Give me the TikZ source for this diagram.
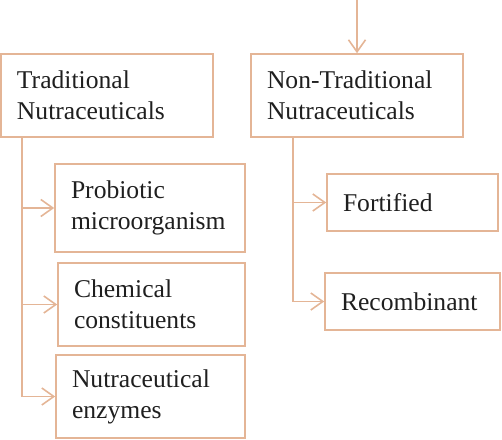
\documentclass[tikz,border=0pt]{standalone}
\usepackage{fontspec}
\setmainfont{Liberation Serif}
\usetikzlibrary{arrows.meta}
\definecolor{peach}{RGB}{228,181,150}
\begin{document}
\begin{tikzpicture}[x=1bp,y=-1bp,
  box/.style={draw=peach,line width=1.6bp,rectangle,align=left,inner ysep=0pt,
    font=\rmfamily\fontsize{25.7}{31}\selectfont,text=black!88},
  conn/.style={draw=peach,line width=1.6bp,-{Straight Barb[length=12bp,width=17bp,line width=1.6bp]}}]
\useasboundingbox (0,0) rectangle (502,440);
% top level boxes
\node[box,minimum width=212bp,minimum height=83bp,text width=180bp,inner xsep=16bp] (trad) at (107,95.5) {Traditional\\Nutraceuticals};
\node[box,minimum width=212bp,minimum height=83bp,text width=180bp,inner xsep=16bp] (nontrad) at (357,95.5) {Non-Traditional\\Nutraceuticals};
% left children
\node[box,minimum width=190bp,minimum height=88bp,text width=158bp,inner xsep=16bp] (prob) at (150,208) {Probiotic\\microorganism};
\node[box,minimum width=187bp,minimum height=83bp,text width=155bp,inner xsep=16bp] (chem) at (151.5,304.5) {Chemical\\constituents};
\node[box,minimum width=189bp,minimum height=83bp,text width=157bp,inner xsep=16bp] (enz) at (150.5,396.5) {Nutraceutical\\enzymes};
% right children
\node[box,minimum width=171bp,minimum height=57bp,text width=139bp,inner xsep=16bp] (fort) at (412.5,202.5) {Fortified};
\node[box,minimum width=175bp,minimum height=57bp,text width=143bp,inner xsep=16bp] (recomb) at (412.5,301.5) {Recombinant};
% connectors
\coordinate (topin) at (357,0);
\draw[conn] (topin) -- (nontrad.north);
\coordinate (tl) at (22,137);
\coordinate (tr) at (293,137);
\draw[conn] (tl) |- (prob.west);
\draw[conn] (tl) |- (chem.west);
\draw[conn] (tl) |- (enz.west);
\draw[conn] (tr) |- (fort.west);
\draw[conn] (tr) |- (recomb.west);
\end{tikzpicture}
\end{document}
